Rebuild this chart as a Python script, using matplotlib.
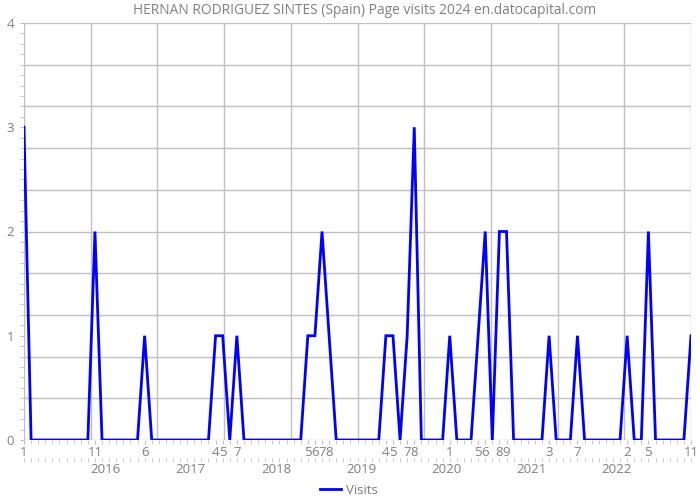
import matplotlib
matplotlib.use("Agg")
import matplotlib.pyplot as plt
from matplotlib.ticker import MultipleLocator, FixedLocator
import numpy as np

title = "HERNAN RODRIGUEZ SINTES (Spain) Page visits 2024 en.datocapital.com"
series_name = "Visits"
start_year = 2015
years = [2015, 2016, 2017, 2018, 2019, 2020, 2021, 2022]
visits_2015 = [3, 0, 0, 0, 0, 0, 0, 0, 0, 0, 2, 0]
visits_2016 = [0, 0, 0, 0, 0, 1, 0, 0, 0, 0, 0, 0]
visits_2017 = [0, 0, 0, 1, 1, 0, 1, 0, 0, 0, 0, 0]
visits_2018 = [0, 0, 0, 0, 1, 1, 2, 1, 0, 0, 0, 0]
visits_2019 = [0, 0, 0, 1, 1, 0, 1, 3, 0, 0, 0, 0]
visits_2020 = [1, 0, 0, 0, 1, 2, 0, 2, 2, 0, 0, 0]
visits_2021 = [0, 0, 1, 0, 0, 0, 1, 0, 0, 0, 0, 0]
visits_2022 = [0, 1, 0, 0, 2, 0, 0, 0, 0, 0, 1]
year_labels = ["2016", "2017", "2018", "2019", "2020", "2021", "2022"]
y_ticks = [0, 1, 2, 3, 4]

visits = (visits_2015 + visits_2016 + visits_2017 + visits_2018 +
          visits_2019 + visits_2020 + visits_2021 + visits_2022)
n = len(visits)
x = np.arange(n)
month_num = [(i % 12) + 1 for i in range(n)]

FONT = ["Open Sans", "DejaVu Sans"]
plt.rcParams["font.family"] = FONT
TXT = "#808080"
GRID = "#c0c0c0"

fig = plt.figure(figsize=(7, 5), dpi=100)
ax = fig.add_axes([24 / 700, 60 / 500, 667 / 700, 417 / 500])
ax.set_xlim(0, n - 1)
ax.set_ylim(0, 4)

for gx in np.linspace(0, n - 1, 11):
    ax.axvline(gx, color=GRID, lw=1, zorder=0)
for gy in np.linspace(0, 4, 11):
    ax.axhline(gy, color=GRID, lw=1, zorder=0)

ax.plot(x, visits, color="#0000ff", lw=2, label=series_name, zorder=3,
        solid_joinstyle="miter")

for s in ax.spines.values():
    s.set_visible(False)

ax.yaxis.set_major_locator(FixedLocator(y_ticks))
ax.yaxis.set_minor_locator(MultipleLocator(0.1))
ax.tick_params(axis="y", which="both", length=3, color=GRID, labelcolor=TXT,
               labelsize=9.5, pad=4)

lab_idx = [i for i in range(n) if visits[i] > 0]
ax.xaxis.set_major_locator(FixedLocator(lab_idx))
ax.set_xticklabels([str(month_num[i]) for i in lab_idx])
ax.xaxis.set_minor_locator(MultipleLocator(1))
ax.tick_params(axis="x", which="both", length=3, color=GRID, labelcolor=TXT,
               labelsize=9.5, pad=1)

sec = ax.secondary_xaxis(-0.043)
sec.spines["bottom"].set_visible(False)
year_pos = [12 * (int(y) - start_year) - 0.5 for y in year_labels]
sec.xaxis.set_major_locator(FixedLocator(year_pos))
sec.set_xticklabels(year_labels)
sec.xaxis.set_minor_locator(MultipleLocator(1))
sec.tick_params(axis="x", which="major", length=0, labelcolor=TXT,
                labelsize=9.5, pad=4)
sec.tick_params(axis="x", which="minor", length=3, color=GRID)

fig.text(365 / 700, 1 - 10 / 500, title, ha="center", va="center",
         color=TXT, fontsize=9.9)

fig.legend(loc="center", bbox_to_anchor=(349 / 700, 1 - 490 / 500),
           frameon=False, fontsize=9.5, labelcolor=TXT, handlelength=1.6,
           handletextpad=0.4)

fig.savefig("out.png", dpi=100)
